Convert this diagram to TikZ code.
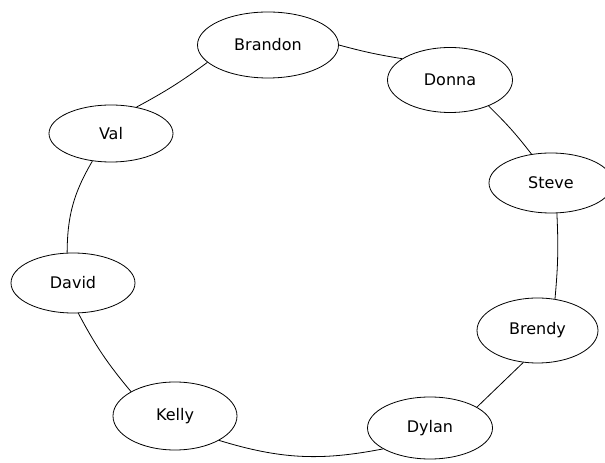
\documentclass[tikz,border=0pt]{standalone}
\usepackage{fontspec}
\setmainfont{DejaVu Sans}
\usetikzlibrary{shapes.geometric}
\begin{document}
\begin{tikzpicture}[x=1pt,y=1pt,
  person/.style={draw=black, line width=0.8pt, ellipse, inner sep=0pt,
    font=\fontsize{16}{18}\selectfont, text=black},
  link/.style={draw=black, line width=0.8pt}]
\useasboundingbox (0,0) rectangle (605,463);
\node[person, minimum width=141, minimum height=66] (brandon) at (268,418) {Brandon};
\node[person, minimum width=125, minimum height=65] (donna) at (450,383) {Donna};
\node[person, minimum width=124, minimum height=57] (val) at (111,329.5) {Val};
\node[person, minimum width=124, minimum height=60] (david) at (73,180) {David};
\node[person, minimum width=124, minimum height=60] (steve) at (551,280) {Steve};
\node[person, minimum width=121, minimum height=65] (brendy) at (537.5,132.5) {Brendy};
\node[person, minimum width=124, minimum height=68] (kelly) at (175,47) {Kelly};
\node[person, minimum width=125, minimum height=62] (dylan) at (430,35) {Dylan};
\draw[link] (brandon.0) to[bend right=3] (donna.156);
\draw[link] (brandon.196) to[bend left=4] (val.46);
\draw[link] (val.236) to[bend right=15] (david.101);
\draw[link] (david.280) to[bend right=6] (kelly.151);
\draw[link] (kelly.331) to[bend right=14] (dylan.204);
\draw[link] (dylan.24) to (brendy.246);
\draw[link] (brendy.61) to[bend right=4] (steve.281);
\draw[link] (donna.326) to[bend left=4] (steve.124);
\end{tikzpicture}
\end{document}
